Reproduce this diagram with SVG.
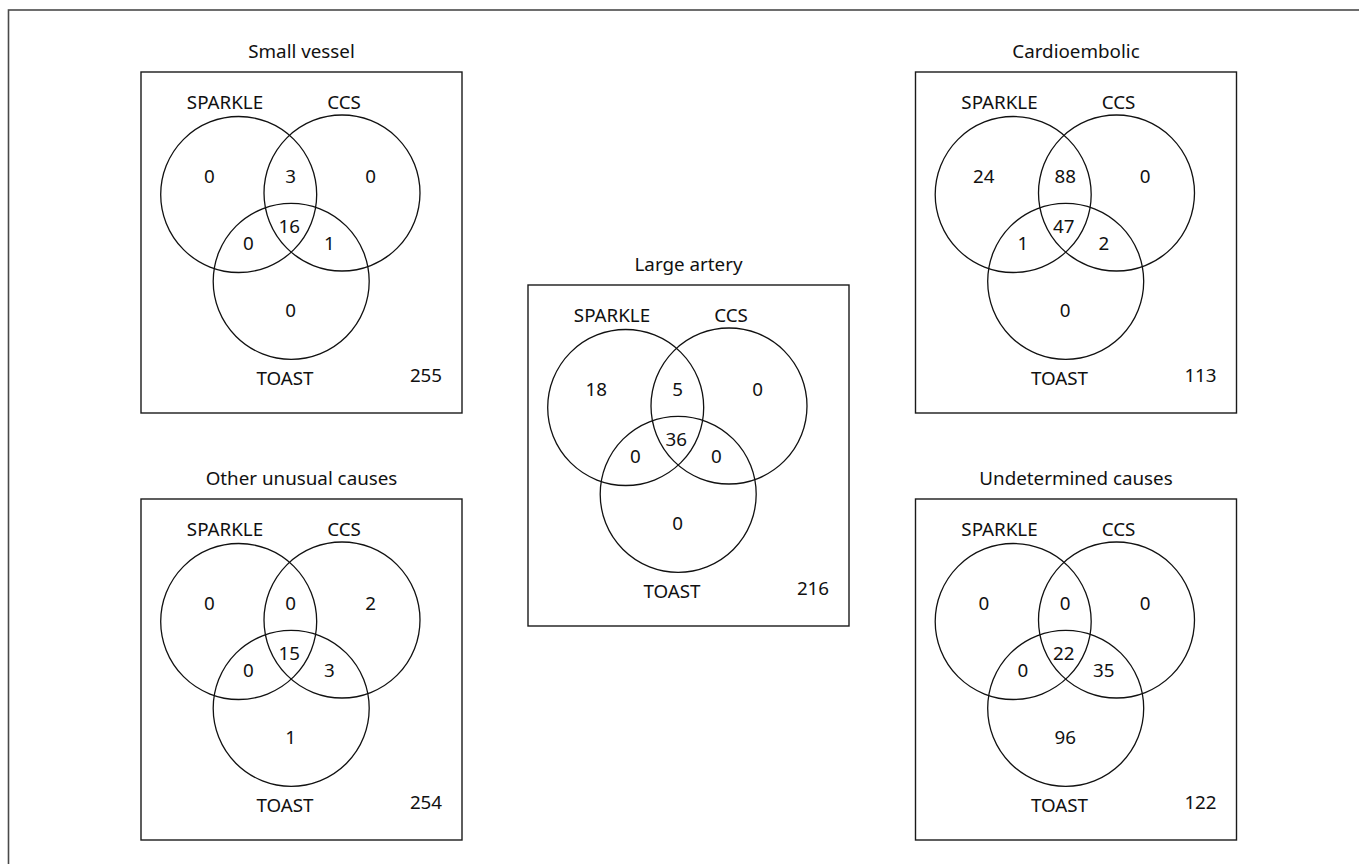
<svg xmlns="http://www.w3.org/2000/svg" width="1359" height="864" viewBox="0 0 1359 864">
<style>
text{font-family:"Noto Sans","Open Sans","Liberation Sans",sans-serif;font-size:18.8px;fill:#111;text-anchor:middle}
.box{fill:none;stroke:#1a1a1a;stroke-width:1.4}
.c{fill:none;stroke:#111;stroke-width:1.3}
.frame{fill:none;stroke:#4a4a4a;stroke-width:1.6}
</style>
<rect class="frame" x="8.5" y="10" width="1400" height="900"/>
<g id="small-vessel" transform="translate(141,72)">
<text x="160.5" y="-14">Small vessel</text>
<rect class="box" x="0" y="0" width="321" height="341"/>
<circle class="c" cx="97.7" cy="122.5" r="78"/><circle class="c" cx="201" cy="121" r="78"/><circle class="c" cx="150.2" cy="209.3" r="78"/>
<text x="84" y="37">SPARKLE</text><text x="203" y="37">CCS</text><text x="144" y="313">TOAST</text>
<text x="68.3" y="110.5">0</text><text x="149.7" y="110.5">3</text><text x="229.7" y="110.5">0</text>
<text x="148.3" y="161.3">16</text><text x="107.3" y="178.3">0</text><text x="188.3" y="178.3">1</text><text x="149.7" y="244.7">0</text>
<text x="285" y="310">255</text>
</g>
<g id="cardioembolic" transform="translate(915.5,72)">
<text x="160.5" y="-14">Cardioembolic</text>
<rect class="box" x="0" y="0" width="321" height="341"/>
<circle class="c" cx="97.7" cy="122.5" r="78"/><circle class="c" cx="201" cy="121" r="78"/><circle class="c" cx="150.2" cy="209.3" r="78"/>
<text x="84" y="37">SPARKLE</text><text x="203" y="37">CCS</text><text x="144" y="313">TOAST</text>
<text x="68.3" y="110.5">24</text><text x="149.7" y="110.5">88</text><text x="229.7" y="110.5">0</text>
<text x="148.3" y="161.3">47</text><text x="107.3" y="178.3">1</text><text x="188.3" y="178.3">2</text><text x="149.7" y="244.7">0</text>
<text x="285" y="310">113</text>
</g>
<g id="large-artery" transform="translate(528,285)">
<text x="160.5" y="-14">Large artery</text>
<rect class="box" x="0" y="0" width="321" height="341"/>
<circle class="c" cx="97.7" cy="122.5" r="78"/><circle class="c" cx="201" cy="121" r="78"/><circle class="c" cx="150.2" cy="209.3" r="78"/>
<text x="84" y="37">SPARKLE</text><text x="203" y="37">CCS</text><text x="144" y="313">TOAST</text>
<text x="68.3" y="110.5">18</text><text x="149.7" y="110.5">5</text><text x="229.7" y="110.5">0</text>
<text x="148.3" y="161.3">36</text><text x="107.3" y="178.3">0</text><text x="188.3" y="178.3">0</text><text x="149.7" y="244.7">0</text>
<text x="285" y="310">216</text>
</g>
<g id="other-unusual" transform="translate(141,499)">
<text x="160.5" y="-14">Other unusual causes</text>
<rect class="box" x="0" y="0" width="321" height="341"/>
<circle class="c" cx="97.7" cy="122.5" r="78"/><circle class="c" cx="201" cy="121" r="78"/><circle class="c" cx="150.2" cy="209.3" r="78"/>
<text x="84" y="37">SPARKLE</text><text x="203" y="37">CCS</text><text x="144" y="313">TOAST</text>
<text x="68.3" y="110.5">0</text><text x="149.7" y="110.5">0</text><text x="229.7" y="110.5">2</text>
<text x="148.3" y="161.3">15</text><text x="107.3" y="178.3">0</text><text x="188.3" y="178.3">3</text><text x="149.7" y="244.7">1</text>
<text x="285" y="310">254</text>
</g>
<g id="undetermined" transform="translate(915.5,499)">
<text x="160.5" y="-14">Undetermined causes</text>
<rect class="box" x="0" y="0" width="321" height="341"/>
<circle class="c" cx="97.7" cy="122.5" r="78"/><circle class="c" cx="201" cy="121" r="78"/><circle class="c" cx="150.2" cy="209.3" r="78"/>
<text x="84" y="37">SPARKLE</text><text x="203" y="37">CCS</text><text x="144" y="313">TOAST</text>
<text x="68.3" y="110.5">0</text><text x="149.7" y="110.5">0</text><text x="229.7" y="110.5">0</text>
<text x="148.3" y="161.3">22</text><text x="107.3" y="178.3">0</text><text x="188.3" y="178.3">35</text><text x="149.7" y="244.7">96</text>
<text x="285" y="310">122</text>
</g>
<g id="connectors"/>
</svg>
